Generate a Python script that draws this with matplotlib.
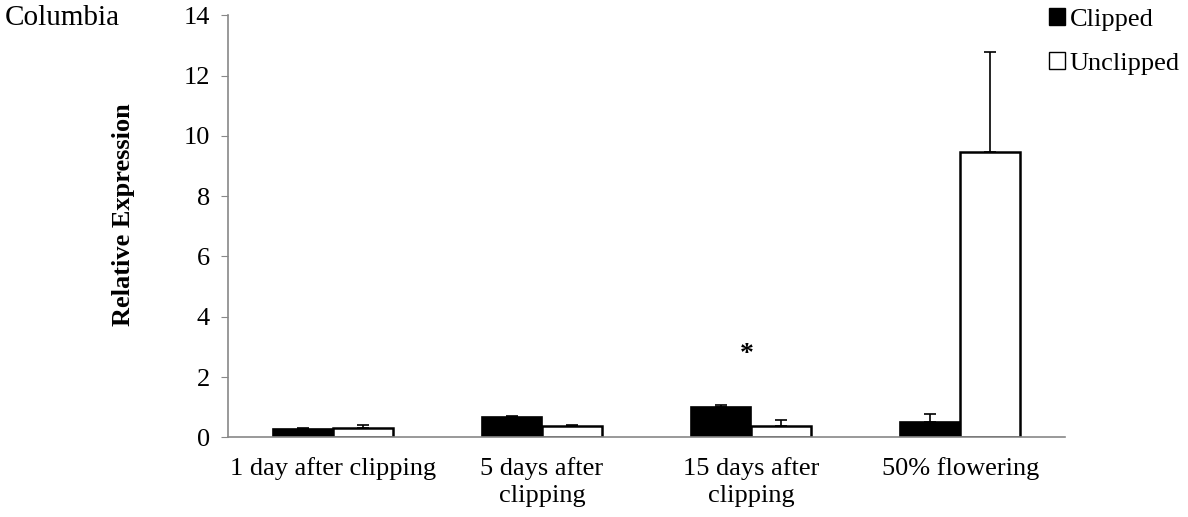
#!/usr/bin/env python3
"""
Relative expression, clipped vs unclipped (Columbia)
"""
import numpy as np
import matplotlib
matplotlib.use('Agg')
import matplotlib.pyplot as plt
from matplotlib.patches import Patch

categories = ['1 day after clipping', '5 days after\nclipping',
              '15 days after\nclipping', '50% flowering']
clipped = [0.28, 0.68, 1.00, 0.52]
clipped_err = [0.04, 0.03, 0.06, 0.24]
unclipped = [0.31, 0.37, 0.36, 9.46]
unclipped_err = [0.11, 0.04, 0.21, 3.31]
yticks = [0, 2, 4, 6, 8, 10, 12, 14]

plt.rcParams['font.family'] = ['Liberation Serif', 'DejaVu Serif']
FS = 19

fig = plt.figure(figsize=(11.88, 5.17), dpi=100)
ax = fig.add_axes([228 / 1188, 1 - 437.3 / 517, (1065 - 228) / 1188, (437.3 - 15.3) / 517])

x = np.arange(len(categories))
w = 0.287
ax.bar(x - w / 2, clipped, w, color='black', edgecolor='black', linewidth=1.2, zorder=2)
ax.bar(x + w / 2, unclipped, w, color='white', edgecolor='black', linewidth=1.8, zorder=2)
ax.errorbar(x - w / 2, clipped, yerr=[np.zeros(4), clipped_err], fmt='none',
            ecolor='black', elinewidth=1.2, capsize=4, capthick=1.2, zorder=3)
ax.errorbar(x + w / 2, unclipped, yerr=[np.zeros(4), unclipped_err], fmt='none',
            ecolor='black', elinewidth=1.2, capsize=4, capthick=1.2, zorder=3)

# significance marker
ax.text(x[2] - 0.02, 2.75, '*', ha='center', va='center', fontsize=20, fontweight='bold')

ax.set_xlim(-0.5, 3.5)
ax.set_ylim(0, 14)
ax.set_yticks(yticks)
ax.set_xticks(x)
ax.set_xticklabels(categories, fontsize=FS, linespacing=1.3)
ax.tick_params(axis='y', labelsize=FS, length=5, color='#888888', pad=8)
ax.tick_params(axis='x', length=0, pad=14)
for s in ['top', 'right']:
    ax.spines[s].set_visible(False)
for s in ['left', 'bottom']:
    ax.spines[s].set_color('#888888')
    ax.spines[s].set_linewidth(1.2)

ax.set_ylabel('Relative Expression', fontsize=FS, fontweight='bold')
ax.yaxis.set_label_coords(-0.111, 0.527)
fig.text(5 / 1188, 1 - 18 / 517, 'Columbia', fontsize=21, va='center', ha='left')

handles = [Patch(facecolor='black', edgecolor='black'),
           Patch(facecolor='white', edgecolor='black')]
fig.legend(handles, ['Clipped', 'Unclipped'], loc='upper left',
           bbox_to_anchor=(1025 / 1188, 1.03), frameon=False, fontsize=FS,
           handlelength=0.6, handleheight=0.6, handletextpad=0.2, labelspacing=0.8)

fig.savefig('out.png', dpi=100)
